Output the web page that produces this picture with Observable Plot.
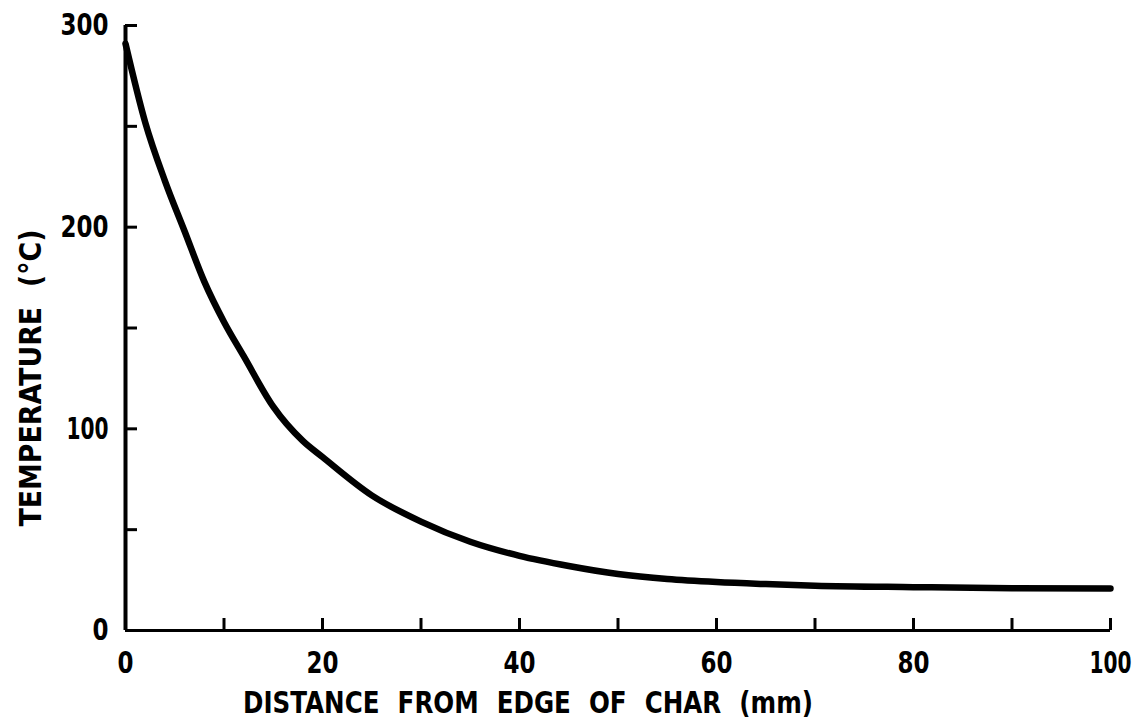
<!DOCTYPE html>
<html><head><meta charset="utf-8">
<script src="https://cdn.jsdelivr.net/npm/d3@7"></script>
<script src="https://cdn.jsdelivr.net/npm/@observablehq/plot@0.6"></script>
<style>
body{margin:0;background:#fff}
#chart svg text{font-family:"DejaVu Sans","Liberation Sans",sans-serif;font-weight:bold}
.title text{word-spacing:12px}
</style>
</head><body><div id="chart"></div>
<script>
const distance    = [0, 2, 4, 6, 8, 10, 12, 15, 18, 20, 25, 30, 35, 40, 45, 50, 55, 60, 65, 70, 80, 90, 100];
const temperature = [291, 252, 223, 198, 173, 153, 136, 111, 94, 86, 67, 54, 44, 37, 32, 28, 25.5, 24, 23, 22.2, 21.5, 21, 20.8];
const xMinorTicks = [10, 20, 30, 40, 50, 60, 70, 80, 90, 100];
const xTickLabels = [0, 20, 40, 60, 80, 100];
const yMinorTicks = [50, 100, 150, 200, 250, 300];
const yTickLabels = [0, 100, 200, 300];
const xTitle = ["DISTANCE FROM EDGE OF CHAR (mm)"];
const yTitle = ["TEMPERATURE (°C)"];

const data = distance.map((d, i) => ({distance: d, temperature: temperature[i]}));

const chart = Plot.plot({
  width: 1140, height: 720,
  marginLeft: 125, marginRight: 30, marginTop: 25, marginBottom: 90,
  x: {domain: [0, 100]},
  y: {domain: [0, 300]},
  style: {fontSize: "30px", color: "#000", background: "#fff", overflow: "visible"},
  marks: [
    Plot.axisX({ticks: xMinorTicks, tickSize: -12, strokeWidth: 3, tickFormat: () => "", label: null}),
    Plot.axisY({ticks: yMinorTicks, tickSize: -12, strokeWidth: 3, tickFormat: () => "", label: null}),
    Plot.axisX({ticks: xTickLabels, tickSize: 0, tickPadding: 20, fontSize: 31, label: null, className: "xlab"}),
    Plot.axisY({ticks: yTickLabels, tickSize: 0, tickPadding: 17, fontSize: 31, label: null, className: "ylab"}),
    Plot.ruleX([0], {strokeWidth: 4}),
    Plot.ruleY([0], {strokeWidth: 3}),
    Plot.line(data, {x: "distance", y: "temperature", strokeWidth: 6.5, curve: "monotone-x", strokeLinecap: "round"}),
    Plot.text(xTitle, {text: d => d, frameAnchor: "bottom", textAnchor: "middle", lineAnchor: "middle", dx: -90, dy: 73, fontSize: 31, className: "title xt"}),
    Plot.text(yTitle, {text: d => d, frameAnchor: "left", textAnchor: "middle", lineAnchor: "middle", rotate: -90, dx: -94, dy: 50, fontSize: 31, className: "title yt"})
  ]
});
document.getElementById("chart").append(chart);
// condense the glyphs to match the narrow lettering of the original
d3.select(chart).selectAll(".xt text").attr("textLength", 570).attr("lengthAdjust", "spacingAndGlyphs");
d3.select(chart).selectAll(".yt text").attr("textLength", 297).attr("lengthAdjust", "spacingAndGlyphs");
d3.select(chart).selectAll(".xlab text, .ylab text").each(function () {
  const w = Array.from(this.textContent).reduce((s, c) => s + (c === "1" ? 10 : 16), 0);
  d3.select(this).attr("textLength", w).attr("lengthAdjust", "spacingAndGlyphs");
});
</script>
</body></html>
